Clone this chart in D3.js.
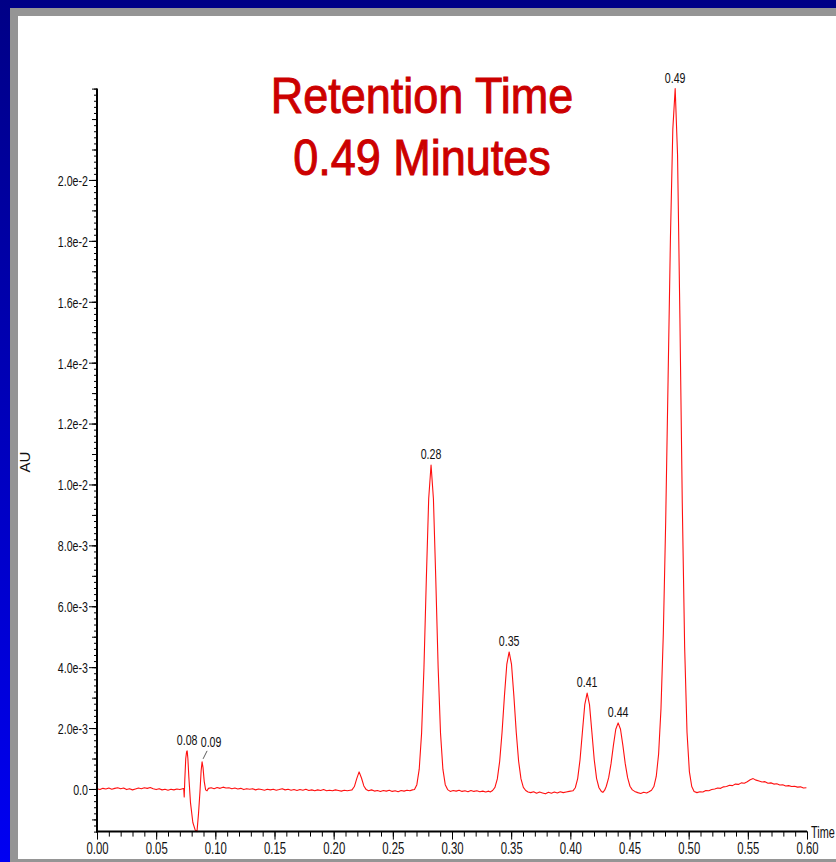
<!DOCTYPE html>
<html>
<head>
<meta charset="utf-8">
<script src="https://cdn.jsdelivr.net/npm/d3@7"></script>
<style>
  html, body { margin: 0; padding: 0; overflow: hidden; background: #fff; }
  svg { display: block; }
  text { font-family: "Liberation Sans", Arial, sans-serif; }
</style>
</head>
<body>
<svg id="chart" width="836" height="862"></svg>
<script>
// Chromatogram trace, [time (min), absorbance (AU)]
const baselineStart = [
  [0.000, 0.00001], [0.0025, -0.00002], [0.005, 0.00002], [0.0075, 0.00000], [0.010, 0.00003],
  [0.0125, -0.00001], [0.015, 0.00002], [0.0175, 0.00004], [0.020, 0.00001], [0.0225, 0.00003],
  [0.025, -0.00002], [0.0275, 0.00001], [0.030, -0.00003], [0.0325, 0.00000], [0.035, 0.00003],
  [0.0375, 0.00001], [0.040, 0.00004], [0.0425, 0.00002], [0.045, 0.00005], [0.0475, 0.00001],
  [0.050, -0.00002], [0.0525, 0.00001], [0.055, -0.00003], [0.0575, -0.00001], [0.060, -0.00004],
  [0.0625, -0.00001], [0.065, -0.00003], [0.0675, 0.00000], [0.070, -0.00002], [0.0725, 0.00001]
];
const injectionPeaks = [
  [0.0733, 0.00001], [0.0737, -0.00026], [0.0742, 0.00030], [0.0750, 0.00100], [0.0757, 0.00122],
  [0.0762, 0.00125], [0.0768, 0.00100], [0.0776, 0.00040], [0.0790, -0.00045], [0.0810, -0.00110],
  [0.0830, -0.00135], [0.0845, -0.00140], [0.0858, -0.00080], [0.0870, -0.00010], [0.0880, 0.00060],
  [0.0888, 0.00089], [0.0896, 0.00070], [0.0906, 0.00025], [0.0918, -0.00003], [0.0930, -0.00006],
  [0.0942, 0.00002]
];
const baselineMid = [
  [0.0965, 0.00004], [0.099, 0.00001], [0.1015, 0.00005], [0.104, 0.00002], [0.1065, 0.00006],
  [0.109, 0.00003], [0.1115, 0.00004], [0.114, 0.00001], [0.1165, 0.00003], [0.119, 0.00000],
  [0.1215, 0.00002], [0.124, -0.00002], [0.1265, 0.00001], [0.129, -0.00001], [0.1315, 0.00001],
  [0.134, -0.00003], [0.1365, 0.00000], [0.139, -0.00002], [0.1415, -0.00004], [0.144, -0.00001],
  [0.1465, -0.00003], [0.149, -0.00001], [0.1515, -0.00004], [0.154, -0.00002], [0.1565, 0.00001],
  [0.159, -0.00003], [0.1615, -0.00001], [0.164, -0.00004], [0.1665, -0.00002], [0.169, -0.00005],
  [0.1715, -0.00002], [0.174, -0.00004], [0.1765, -0.00001], [0.179, -0.00005], [0.1815, -0.00003],
  [0.184, -0.00006], [0.1865, -0.00003], [0.189, -0.00005], [0.1915, -0.00002], [0.194, -0.00006],
  [0.1965, -0.00004], [0.199, -0.00006], [0.2015, -0.00003], [0.204, -0.00005], [0.2065, -0.00007],
  [0.209, -0.00004], [0.2115, -0.00006], [0.214, -0.00004]
];
const smallPeak = [
  [0.2155, -0.00003], [0.2175, 0.00008], [0.2195, 0.00034], [0.2215, 0.00056], [0.2235, 0.00036],
  [0.2255, 0.00010], [0.2275, -0.00002]
];
const baselineBefore28 = [
  [0.2295, -0.00006], [0.232, -0.00003], [0.2345, -0.00007], [0.237, -0.00005], [0.2395, -0.00008],
  [0.242, -0.00005], [0.2445, -0.00007], [0.247, -0.00004], [0.2495, -0.00008], [0.252, -0.00006],
  [0.2545, -0.00009], [0.257, -0.00005], [0.2595, -0.00007], [0.262, -0.00004], [0.2645, -0.00006],
  [0.2665, -0.00003]
];
const peak28 = [
  [0.2683, -0.00002], [0.2703, 0.00014], [0.2723, 0.00065], [0.2743, 0.00183], [0.2763, 0.00398],
  [0.2783, 0.00688], [0.2803, 0.00953], [0.2823, 0.01064], [0.2843, 0.00953], [0.2863, 0.00688],
  [0.2883, 0.00398], [0.2903, 0.00183], [0.2923, 0.00065], [0.2943, 0.00014], [0.2963, -0.00002]
];
const baselineBefore35 = [
  [0.2985, -0.00008], [0.301, -0.00005], [0.3035, -0.00007], [0.306, -0.00004], [0.3085, -0.00008],
  [0.311, -0.00006], [0.3135, -0.00009], [0.316, -0.00005], [0.3185, -0.00008], [0.321, -0.00006],
  [0.3235, -0.00009], [0.326, -0.00007], [0.3285, -0.00010], [0.331, -0.00007]
];
const peak35 = [
  [0.3323, -0.00010], [0.3343, -0.00005], [0.3363, 0.00005], [0.3383, 0.00033], [0.3403, 0.00091],
  [0.3423, 0.00186], [0.3443, 0.00305], [0.3463, 0.00409], [0.3483, 0.00450], [0.3503, 0.00409],
  [0.3523, 0.00305], [0.3543, 0.00186], [0.3563, 0.00091], [0.3583, 0.00033], [0.3603, 0.00005],
  [0.3623, -0.00005], [0.3643, -0.00010]
];
const baselineBefore41 = [
  [0.3665, -0.00012], [0.369, -0.00009], [0.3715, -0.00014], [0.374, -0.00010], [0.3765, -0.00013],
  [0.379, -0.00016], [0.3815, -0.00011], [0.384, -0.00014], [0.3865, -0.00010], [0.389, -0.00013],
  [0.3915, -0.00009], [0.394, -0.00012], [0.3965, -0.00010], [0.399, -0.00008]
];
const peaks41and44 = [
  [0.4022, -0.00006], [0.4042, 0.00004], [0.4062, 0.00034], [0.4082, 0.00096], [0.4102, 0.00187],
  [0.4122, 0.00277], [0.4142, 0.00315], [0.4162, 0.00277], [0.4182, 0.00187], [0.4202, 0.00096],
  [0.4222, 0.00034], [0.4242, 0.00004], [0.4262, -0.00008], [0.4275, -0.00011], [0.4290, -0.00004],
  [0.4304, 0.00009], [0.4324, 0.00037], [0.4344, 0.00083], [0.4364, 0.00143], [0.4384, 0.00196],
  [0.4404, 0.00217], [0.4424, 0.00196], [0.4444, 0.00143], [0.4464, 0.00083], [0.4484, 0.00037],
  [0.4504, 0.00009], [0.4524, -0.00003], [0.4544, -0.00008]
];
const baselineBefore49 = [
  [0.457, -0.00012], [0.4595, -0.00015], [0.462, -0.00011], [0.4645, -0.00013], [0.4665, -0.00009]
];
const peak49 = [
  [0.4686, -0.00004], [0.4706, 0.00008], [0.4726, 0.00041], [0.4746, 0.00115], [0.4766, 0.00263],
  [0.4786, 0.00512], [0.4806, 0.00882], [0.4826, 0.01344], [0.4846, 0.01810], [0.4866, 0.02166],
  [0.4886, 0.02300], [0.4906, 0.02083], [0.4926, 0.01547], [0.4946, 0.00939], [0.4966, 0.00466],
  [0.4986, 0.00186], [0.5006, 0.00057], [0.5026, 0.00008], [0.5046, -0.00008]
];
const baselineEnd = [
  [0.507, -0.00012], [0.5095, -0.00009], [0.512, -0.00010], [0.5145, -0.00005], [0.517, -0.00006],
  [0.5195, -0.00002], [0.522, 0.00000], [0.5245, 0.00003], [0.527, 0.00002], [0.5295, 0.00007],
  [0.532, 0.00008], [0.5345, 0.00012], [0.537, 0.00011], [0.5395, 0.00016], [0.542, 0.00015],
  [0.5445, 0.00020], [0.547, 0.00019], [0.5495, 0.00024], [0.552, 0.00030], [0.5545, 0.00034],
  [0.557, 0.00029], [0.5595, 0.00026], [0.562, 0.00023], [0.5645, 0.00024], [0.567, 0.00019],
  [0.5695, 0.00020], [0.572, 0.00016], [0.5745, 0.00017], [0.577, 0.00013], [0.5795, 0.00014],
  [0.582, 0.00010], [0.5845, 0.00011], [0.587, 0.00008], [0.5895, 0.00009], [0.592, 0.00006],
  [0.5945, 0.00007], [0.597, 0.00003], [0.5995, 0.00004]
];

// Peak annotations: label text and the retention time it sits on
const peakNames = ["0.08", "0.09", "0.28", "0.35", "0.41", "0.44", "0.49"];
const peakTimes = [0.0762, 0.0888, 0.2823, 0.3483, 0.4142, 0.4404, 0.4886];

// Axis ticks
const xMajorTicks = d3.range(0, 13).map(i => i * 0.05);
const xMinorTicks = d3.range(0, 61).map(i => i / 100);
const yLabelTicks = d3.range(0, 11).map(i => i * 0.002);
const yMidTicks = d3.range(-1, 24).map(i => i * 0.001);
const yMinorTicks = d3.range(-7, 116).map(i => i * 0.0002);

const titleLines = ["Retention Time", "0.49 Minutes"];

const trace = [].concat(baselineStart, injectionPeaks, baselineMid, smallPeak, baselineBefore28,
  peak28, baselineBefore35, peak35, baselineBefore41, peaks41and44, baselineBefore49, peak49, baselineEnd);

const svg = d3.select('#chart');

// Slide frame: blue gradient, grey border, white page
const defs = svg.append('defs');
const grad = defs.append('linearGradient').attr('id', 'frameGrad')
  .attr('x1', 0).attr('y1', 0).attr('x2', 0).attr('y2', 1);
grad.append('stop').attr('offset', '0%').attr('stop-color', '#000086');
grad.append('stop').attr('offset', '100%').attr('stop-color', '#0000f2');
svg.append('rect').attr('width', 836).attr('height', 862).attr('fill', 'url(#frameGrad)');
svg.append('rect').attr('x', 10).attr('y', 8).attr('width', 826).attr('height', 854).attr('fill', '#959595');
svg.append('rect').attr('x', 18).attr('y', 16).attr('width', 818).attr('height', 843).attr('fill', '#ffffff');

const x = d3.scaleLinear().domain([0, 0.6]).range([97, 807]);
const y = d3.scaleLinear().domain([-0.0014, 0.023]).range([831.6, 88.6]);
const x0 = x(0), yBottom = y(-0.0014);
const SX = 0.71; // narrow font look

function yFormat(v) {
  if (Math.abs(v) < 1e-12) return '0.0';
  const e = Math.floor(Math.log10(v) + 1e-9);
  return (v / Math.pow(10, e)).toFixed(1) + 'e' + e;
}

// Trace
const line = d3.line().x(d => x(d[0])).y(d => y(d[1]));
svg.append('path')
  .datum(trace)
  .attr('d', line)
  .attr('fill', 'none')
  .attr('stroke', '#ff1010')
  .attr('stroke-width', 1.1)
  .attr('stroke-linejoin', 'round');

// Y axis ticks
const yMinor = svg.append('g').attr('transform', `translate(${x0},0)`)
  .call(d3.axisLeft(y).tickValues(yMinorTicks).tickSize(3).tickFormat(''));
const yMid = svg.append('g').attr('transform', `translate(${x0},0)`)
  .call(d3.axisLeft(y).tickValues(yMidTicks).tickSize(5).tickFormat(''));
const yMajor = svg.append('g').attr('transform', `translate(${x0},0)`)
  .call(d3.axisLeft(y).tickValues(yLabelTicks).tickSize(8).tickFormat(yFormat));
yMajor.selectAll('text')
  .attr('x', 0)
  .attr('dy', '0.36em')
  .attr('transform', `translate(-9,0) scale(${SX},1)`)
  .attr('font-size', 15)
  .attr('fill', '#111');

// X axis ticks
const xMinor = svg.append('g').attr('transform', `translate(0,${yBottom})`)
  .call(d3.axisBottom(x).tickValues(xMinorTicks).tickSize(5).tickFormat(''));
const xMajor = svg.append('g').attr('transform', `translate(0,${yBottom})`)
  .call(d3.axisBottom(x).tickValues(xMajorTicks).tickSize(8).tickPadding(3).tickFormat(d3.format('.2f')));
xMajor.selectAll('text')
  .attr('transform', `scale(${SX},1)`)
  .attr('font-size', 16)
  .attr('fill', '#111');

[yMinor, yMid, yMajor, xMinor, xMajor].forEach(g => {
  g.select('.domain').remove();
  g.selectAll('line').attr('stroke', '#000').attr('stroke-width', 1);
});

// Axis lines
svg.append('line').attr('x1', x0).attr('x2', x0).attr('y1', y(0.023)).attr('y2', yBottom + 1)
  .attr('stroke', '#000').attr('stroke-width', 2);
svg.append('line').attr('x1', x0 - 1).attr('x2', x(0.6)).attr('y1', yBottom).attr('y2', yBottom)
  .attr('stroke', '#000').attr('stroke-width', 2);

// Axis titles
svg.append('text')
  .attr('transform', `translate(30,462) rotate(-90)`)
  .attr('text-anchor', 'middle')
  .attr('font-size', 15)
  .attr('fill', '#111')
  .text('AU');
svg.append('text')
  .attr('transform', `translate(${x(0.6) + 4},${yBottom + 6}) scale(0.68,1)`)
  .attr('font-size', 16)
  .attr('fill', '#111')
  .text('Time');

// Peak labels
const nearest = t => trace.reduce((a, b) => Math.abs(b[0] - t) < Math.abs(a[0] - t) ? b : a);
peakNames.forEach((name, i) => {
  const p = nearest(peakTimes[i]);
  const px = x(p[0]), py = y(p[1]);
  let lx = px, ly = py - 6;
  if (name === '0.09') {
    // offset label with a leader line, as in the original
    lx = px + 9; ly = py - 15;
    svg.append('line')
      .attr('x1', px + 5).attr('y1', py - 11)
      .attr('x2', px + 1).attr('y2', py - 3)
      .attr('stroke', '#333').attr('stroke-width', 0.8);
  }
  svg.append('text')
    .attr('transform', `translate(${lx},${ly}) scale(${SX},1)`)
    .attr('text-anchor', 'middle')
    .attr('font-size', 15)
    .attr('fill', '#111')
    .text(name);
});

// Title
titleLines.forEach((t, i) => {
  svg.append('text')
    .attr('transform', `translate(422,${113 + i * 62}) scale(0.9,1)`)
    .attr('text-anchor', 'middle')
    .attr('font-size', 50)
    .attr('fill', '#cc0000')
    .attr('stroke', '#cc0000')
    .attr('stroke-width', 1)
    .text(t);
});
</script>
</body>
</html>
